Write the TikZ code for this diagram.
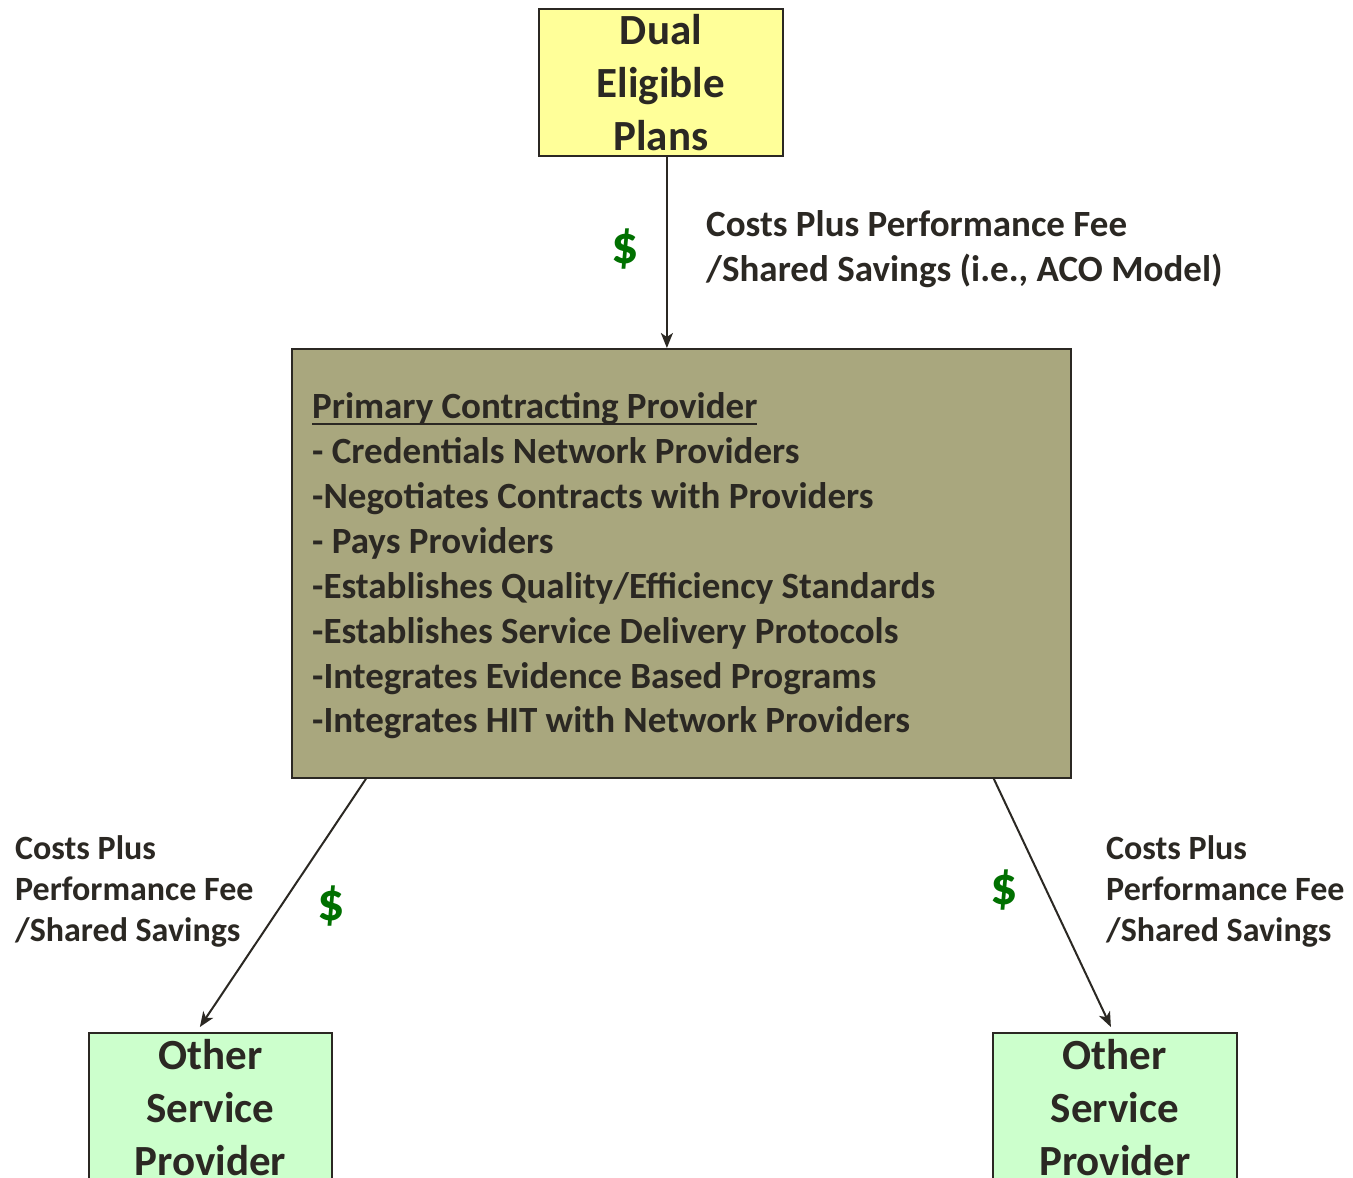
\documentclass[tikz,border=0pt]{standalone}
\usepackage{fontspec}
\setmainfont{Carlito}
\usetikzlibrary{arrows.meta}
\definecolor{ink}{HTML}{2B2823}
\definecolor{ybox}{HTML}{FFFF99}
\definecolor{gbox}{HTML}{CCFFCC}
\definecolor{obox}{HTML}{A9A77E}
\definecolor{money}{HTML}{007000}
\newcommand{\ulx}[1]{\setbox0\hbox{#1}\rlap{\rule[-0.2em]{\wd0}{0.065em}}\box0}
\begin{document}
\begin{tikzpicture}[x=1pt,y=-1pt,
  box/.style={draw=ink,line width=1.8pt,inner sep=0pt,anchor=north west,text=ink,font=\bfseries,align=center},
  bigtext/.style={font=\fontsize{43}{53}\selectfont\bfseries},
  lbl/.style={text=ink,inner sep=0pt,align=left,anchor=base west},
  dollar/.style={text=money,inner sep=0pt,font=\fontsize{54}{60}\selectfont\bfseries},
  arr/.style={draw=ink,line width=2pt,-{Stealth[length=15pt,width=12pt,inset=4pt]}}]
\clip (0,0) rectangle (1353,1178);
\fill[white] (0,0) rectangle (1353,1178);
% boxes
\node[box,fill=ybox,minimum width=244,minimum height=147,bigtext] (dual) at (538,8) {Dual\\Eligible\\Plans};
\node[box,fill=obox,minimum width=779,minimum height=429] (main) at (291,348) {};
\node[box,fill=gbox,minimum width=243,minimum height=150,bigtext] (lbox) at (88,1032) {Other\\Service\\Provider};
\node[box,fill=gbox,minimum width=244,minimum height=150,bigtext] (rbox) at (992,1032) {Other\\Service\\Provider};
% main text
\node[lbl,font=\fontsize{37}{45}\selectfont\bfseries] (maintext) at (312,418) {\ulx{Primary Contracting Provider}};
\node[lbl,font=\fontsize{37}{45}\selectfont\bfseries] (l1) at (312,463) {- Credentials Network Providers};
\node[lbl,font=\fontsize{37}{45}\selectfont\bfseries] (l2) at (312,508) {-Negotiates Contracts with Providers};
\node[lbl,font=\fontsize{37}{45}\selectfont\bfseries] (l3) at (312,553) {- Pays Providers};
\node[lbl,font=\fontsize{37}{45}\selectfont\bfseries] (l4) at (312,598) {-Establishes Quality/Efficiency Standards};
\node[lbl,font=\fontsize{37}{45}\selectfont\bfseries] (l5) at (312,643) {-Establishes Service Delivery Protocols};
\node[lbl,font=\fontsize{37}{45}\selectfont\bfseries] (l6) at (312,688) {-Integrates Evidence Based Programs};
\node[lbl,font=\fontsize{37}{45}\selectfont\bfseries] (l7) at (312,732) {-Integrates HIT with Network Providers};
% connectors
\draw[arr] ([xshift=6pt]dual.south) -- ([xshift=6pt]dual.south |- main.north);
\draw[arr] ([xshift=75pt]main.south west) -- ([xshift=-10.5pt,yshift=5pt]lbox.north);
\draw[arr] ([xshift=-78pt]main.south east) -- ([xshift=-4pt,yshift=5pt]rbox.north);
% labels
\node[lbl,font=\fontsize{37}{45}\selectfont\bfseries] (tl1) at (706,236) {Costs Plus Performance Fee};
\node[lbl,font=\fontsize{37}{45}\selectfont\bfseries] (tl2) at (706,281) {/Shared Savings (i.e., ACO Model)};
\node[dollar] (d1) at (625,249) {\$};
\node[lbl,font=\fontsize{34}{41}\selectfont\bfseries] (ll1) at (15,859) {Costs Plus};
\node[lbl,font=\fontsize{34}{41}\selectfont\bfseries] (ll2) at (15,900) {Performance Fee};
\node[lbl,font=\fontsize{34}{41}\selectfont\bfseries] (ll3) at (15,941) {/Shared Savings};
\node[dollar] (d2) at (331,906) {\$};
\node[lbl,font=\fontsize{34}{41}\selectfont\bfseries] (rl1) at (1106,859) {Costs Plus};
\node[lbl,font=\fontsize{34}{41}\selectfont\bfseries] (rl2) at (1106,900) {Performance Fee};
\node[lbl,font=\fontsize{34}{41}\selectfont\bfseries] (rl3) at (1106,941) {/Shared Savings};
\node[dollar] (d3) at (1004,890) {\$};
\end{tikzpicture}
\end{document}
